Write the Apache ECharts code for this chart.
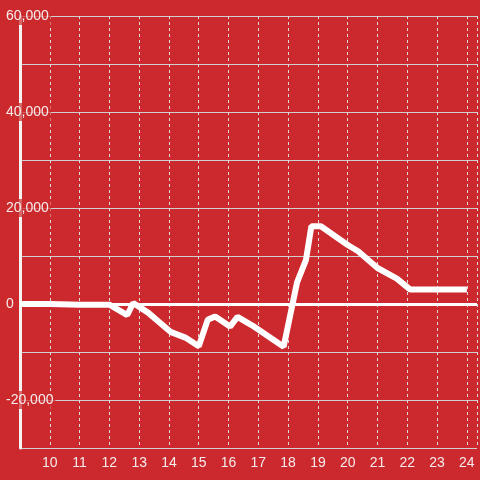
<!DOCTYPE html>
<html>
<head>
<meta charset="utf-8">
<script src="https://cdn.jsdelivr.net/npm/echarts@6/dist/echarts.min.js"></script>
<style>
  html, body { margin: 0; padding: 0; background: #cc292e; }
  #chart { width: 480px; height: 480px; }
</style>
</head>
<body>
<div id="chart"></div>
<script>
// hour of day vs value
const hours = [9, 10, 11, 12, 12.6, 12.8, 13.3, 14.05, 14.55, 15.0, 15.3, 15.55, 16.05, 16.3, 16.8, 17.85, 18.3, 18.6, 18.78, 19.1, 20.0, 20.35, 21.0, 21.65, 22.1, 24.0];
const values = [0, 0, -150, -150, -2300, 200, -1800, -5800, -7000, -8800, -3300, -2600, -4700, -2700, -4500, -8900, 4500, 9200, 16200, 16200, 12300, 11000, 7500, 5300, 3000, 3000];

const yTicks = [-30000, 60000, 10000];   // min, max, step
const xTicks = [9, 24.34, 1];            // axis runs off the right edge

const labelColor = '#f4ecec';
const fontFamily = 'Liberation Sans, Arial, sans-serif';

const chart = echarts.init(document.getElementById('chart'), null, { renderer: 'canvas' });

chart.setOption({
  backgroundColor: '#cc292e',
  animation: false,
  grid: { left: 20, right: 0, top: 16, bottom: 32, containLabel: false },
  xAxis: {
    type: 'value',
    min: xTicks[0],
    max: xTicks[1],
    interval: xTicks[2],
    axisLine: { show: false },
    axisTick: { show: false },
    axisLabel: {
      color: labelColor,
      fontSize: 14,
      fontFamily,
      margin: 8,
      formatter: v => (v === 9 || !Number.isInteger(v) ? '' : String(v))
    },
    splitLine: { show: true, lineStyle: { color: '#dcdcdc', type: [3, 3], width: 1 } }
  },
  yAxis: {
    type: 'value',
    min: yTicks[0],
    max: yTicks[1],
    interval: yTicks[2],
    axisLine: { show: true, onZero: false, lineStyle: { color: '#f4f4f4', width: 3 } },
    axisTick: { show: false },
    axisLabel: {
      align: 'left',
      margin: 16,
      color: labelColor,
      fontSize: 14,
      fontFamily,
      formatter: v => (v % 20000 === 0 ? '{a|' + v.toLocaleString('en-US') + '}' : ''),
      rich: {
        a: {
          color: labelColor,
          fontSize: 14,
          fontFamily,
          backgroundColor: 'rgba(204,41,46,0.7)',
          padding: [2, 2, 2, 2]
        }
      }
    },
    splitLine: { show: true, lineStyle: { color: '#cfcfcf', width: 1 } }
  },
  series: [{
    type: 'line',
    data: hours.map((h, i) => [h, values[i]]),
    symbol: 'none',
    lineStyle: { color: '#ffffff', width: 6 },
    markLine: {
      silent: true,
      symbol: 'none',
      label: { show: false },
      lineStyle: { color: '#ffffff', width: 3, type: 'solid' },
      data: [{ yAxis: 0 }]
    }
  }]
});
</script>
</body>
</html>
